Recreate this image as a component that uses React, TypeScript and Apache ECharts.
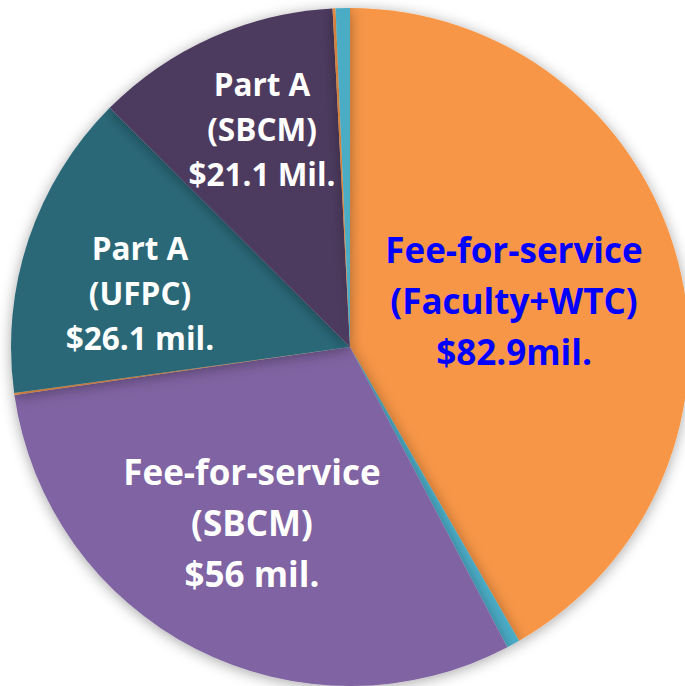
import React, { useEffect, useRef } from "react";
import * as echarts from "echarts";

const categories = [
  "Fee-for-service (Faculty+WTC)",
  "Other 1",
  "Fee-for-service (SBCM)",
  "Other 2",
  "Part A (UFPC)",
  "Part A (SBCM)",
  "Other 3",
  "Other 4",
];
const values = [82.9, 1.25, 60.5, 0.17, 29.1, 23.3, 0.28, 1.35];
const colors = ["#F79646", "#4BACC6", "#8064A2", "#F79646", "#2A6878", "#4D3A5F", "#F79646", "#4BACC6"];
const labelTexts = [
  "Fee-for-service\n(Faculty+WTC)\n$82.9mil.",
  "",
  "Fee-for-service\n(SBCM)\n$56 mil.",
  "",
  "Part A\n(UFPC)\n$26.1 mil.",
  "Part A\n(SBCM)\n$21.1 Mil.",
  "",
  "",
];

const labelPos: Record<number, [number, number]> = {
  0: [514, 300],
  2: [252, 522],
  4: [140, 292],
  5: [262, 128],
};

export default function App() {
  const ref = useRef<HTMLDivElement>(null);
  useEffect(() => {
    if (!ref.current) return;
    const chart = echarts.init(ref.current, null, { renderer: "svg" });
    const data = categories.map((name, i) => {
      const big = i === 0 || i === 2;
      return {
        name,
        value: values[i],
        itemStyle: { color: colors[i] },
        label: {
          show: labelTexts[i] !== "",
          formatter: labelTexts[i],
          color: i === 0 ? "#0000FF" : "#FFFFFF",
          fontSize: big ? 35 : 31.5,
          lineHeight: big ? 51 : 45,
        },
      };
    });
    chart.setOption({
      animation: false,
      series: [
        {
          type: "pie",
          center: [350, 347],
          radius: [0, 339],
          startAngle: 90,
          clockwise: true,
          avoidLabelOverlap: false,
          data,
          itemStyle: {
            borderWidth: 0,
            shadowBlur: 14,
            shadowColor: "rgba(0,0,0,0.35)",
            shadowOffsetY: 2,
          },
          label: {
            position: "inside",
            fontFamily: "Open Sans",
            fontWeight: "bold",
            align: "center",
          },
          labelLine: { show: false },
          emphasis: { disabled: true },
          labelLayout: (params: any) => {
            const p = labelPos[params.dataIndex];
            if (!p) return {};
            return { x: p[0], y: p[1], align: "center", verticalAlign: "middle" };
          },
        },
      ],
    });
    return () => chart.dispose();
  }, []);
  return (
    <div
      ref={ref}
      style={{ position: "fixed", left: 0, top: 0, width: 685, height: 686, background: "#fff" }}
    />
  );
}
